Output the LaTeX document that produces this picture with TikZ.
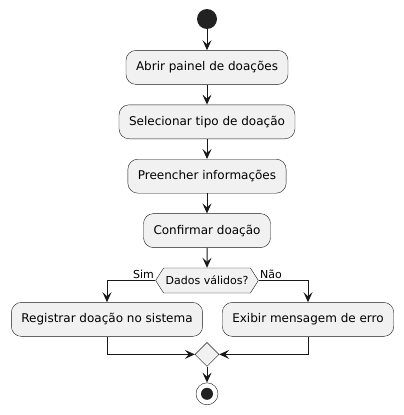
\documentclass[tikz,border=0pt]{standalone}
\usepackage{fontspec}
\setmainfont{DejaVu Sans}
\usetikzlibrary{shapes.geometric, shapes.symbols, arrows.meta, positioning}
\definecolor{boxfill}{HTML}{F1F1F1}
\definecolor{ink}{HTML}{181818}
\definecolor{dot}{HTML}{222222}
\tikzstyle{startnode} = [circle, minimum size=20pt, inner sep=0pt, fill=dot]
\tikzstyle{action} = [rectangle, rounded corners=10pt, minimum height=34pt, inner xsep=10pt, text centered, draw=ink, fill=boxfill, font=\fontsize{12}{14}\selectfont]
\tikzstyle{decision} = [signal, signal to=west and east, signal pointer angle=115, minimum height=25pt, inner xsep=2pt, inner ysep=0pt, draw=ink, fill=boxfill, font=\fontsize{11}{13}\selectfont]
\tikzstyle{merge} = [diamond, minimum width=24pt, minimum height=24pt, inner sep=0pt, draw=ink, fill=boxfill]
\tikzstyle{stopnode} = [circle, minimum size=22pt, inner sep=0pt, draw=ink, fill=white, path picture={\fill[dot] (path picture bounding box.center) circle (6pt);}]
\tikzstyle{lbl} = [font=\fontsize{11}{13}\selectfont, inner sep=1pt]
\tikzstyle{arrow} = [line width=1pt, draw=ink, ->, >={Stealth[length=10pt, width=9pt, inset=4pt]}]

\begin{document}
\begin{tikzpicture}[node distance=20pt]

    \useasboundingbox (0,0) rectangle (404pt,-415pt);

    \node (start) [startnode] at (207pt,-19pt) {};

    \node (open) [action, below=21pt of start] {Abrir painel de doações};
    \node (choose) [action, below=of open] {Selecionar tipo de doação};
    \node (fill) [action, below=of choose] {Preencher informações};
    \node (confirm) [action, below=of fill] {Confirmar doação};

    \node (valid) [decision, below=of confirm] {Dados válidos?};

    \node (register) [action, below=9pt of valid, xshift=-100pt] {Registrar doação no sistema};
    \node (error) [action, below=9pt of valid, xshift=101pt] {Exibir mensagem de erro};

    \node (join) [merge, below=49pt of valid] {};
    \node (stop) [stopnode, below=16pt of join] {};

    \draw [arrow] (start) -- (open);
    \draw [arrow] (open) -- (choose);
    \draw [arrow] (choose) -- (fill);
    \draw [arrow] (fill) -- (confirm);
    \draw [arrow] (confirm) -- (valid);
    \draw [arrow] (valid.west) node[lbl, above left] {Sim} -| (register.north);
    \draw [arrow] (valid.east) node[lbl, above right] {Não} -| (error.north);
    \draw [arrow] (register.south) |- (join.west);
    \draw [arrow] (error.south) |- (join.east);
    \draw [arrow] (join) -- (stop);

\end{tikzpicture}
\end{document}
